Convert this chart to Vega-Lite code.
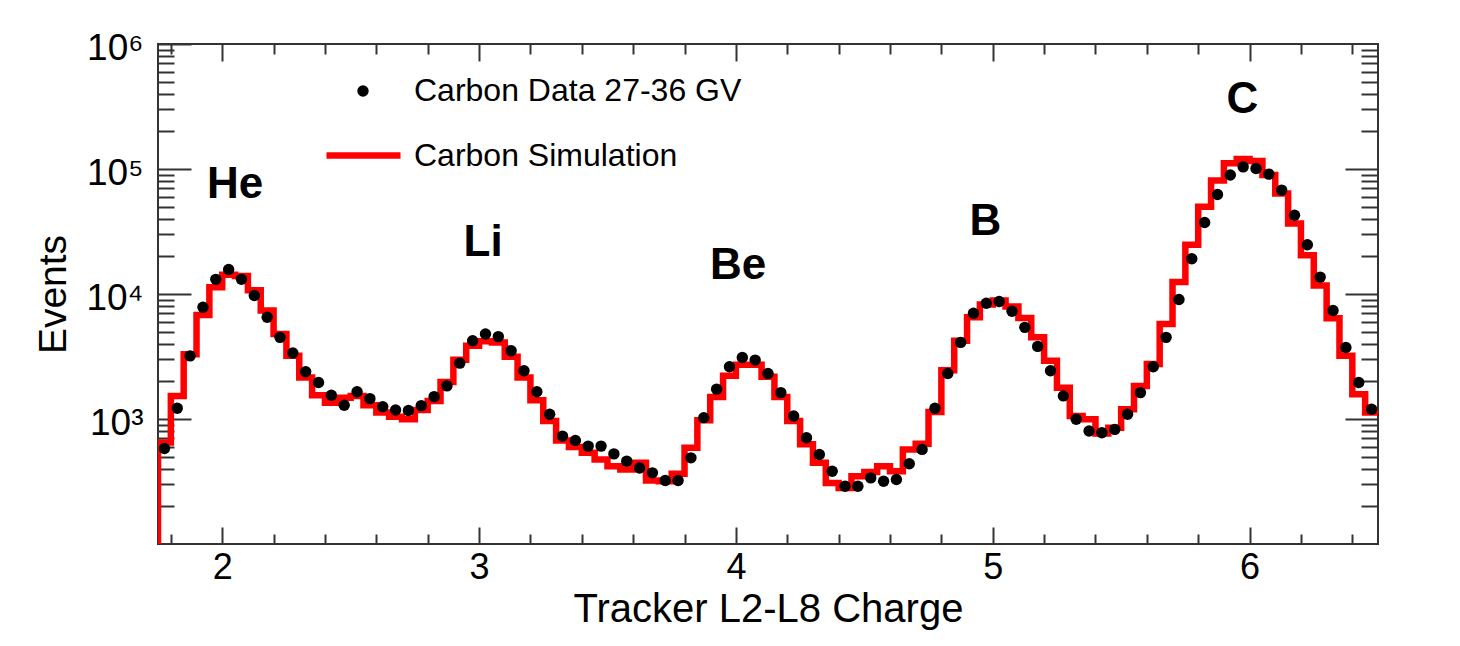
{
  "$schema": "https://vega.github.io/schema/vega-lite/v6.json",
  "width": 1220,
  "height": 500,
  "autosize": {"type": "none"},
  "padding": {"left": 158, "top": 44, "right": 82, "bottom": 102},
  "background": "white",
  "config": {
    "font": "Liberation Sans",
    "view": {"stroke": "#333333", "strokeWidth": 2},
    "axis": {
      "grid": false,
      "domain": false,
      "tickColor": "#333333",
      "tickWidth": 2,
      "labelColor": "black",
      "titleColor": "black",
      "labelFont": "Liberation Sans",
      "titleFont": "Liberation Sans",
      "titleFontWeight": "normal",
      "labelFlush": false,
      "labelOverlap": false,
      "labelBound": false
    },
    "legend": {"padding": 0, "offset": 0, "labelFont": "Liberation Sans", "labelColor": "black", "labelLimit": 0}
  },
  "datasets": {
    "hist": [
      {"edge": 1.75, "sim": 100},
      {"edge": 1.75, "sim": 650},
      {"edge": 1.80, "sim": 1530},
      {"edge": 1.85, "sim": 3300},
      {"edge": 1.90, "sim": 6800},
      {"edge": 1.95, "sim": 11350},
      {"edge": 2.00, "sim": 14270},
      {"edge": 2.05, "sim": 13900},
      {"edge": 2.10, "sim": 10700},
      {"edge": 2.15, "sim": 7370},
      {"edge": 2.20, "sim": 4790},
      {"edge": 2.25, "sim": 3210},
      {"edge": 2.30, "sim": 2150},
      {"edge": 2.35, "sim": 1550},
      {"edge": 2.40, "sim": 1350},
      {"edge": 2.45, "sim": 1480},
      {"edge": 2.50, "sim": 1530},
      {"edge": 2.55, "sim": 1290},
      {"edge": 2.60, "sim": 1125},
      {"edge": 2.65, "sim": 1040},
      {"edge": 2.70, "sim": 995},
      {"edge": 2.75, "sim": 1180},
      {"edge": 2.80, "sim": 1395},
      {"edge": 2.85, "sim": 1980},
      {"edge": 2.90, "sim": 2980},
      {"edge": 2.95, "sim": 3850},
      {"edge": 3.00, "sim": 4180},
      {"edge": 3.05, "sim": 4100},
      {"edge": 3.10, "sim": 3150},
      {"edge": 3.15, "sim": 2150},
      {"edge": 3.20, "sim": 1413},
      {"edge": 3.25, "sim": 963},
      {"edge": 3.30, "sim": 674},
      {"edge": 3.35, "sim": 596},
      {"edge": 3.40, "sim": 537},
      {"edge": 3.45, "sim": 475},
      {"edge": 3.50, "sim": 419},
      {"edge": 3.55, "sim": 394},
      {"edge": 3.60, "sim": 446},
      {"edge": 3.65, "sim": 322},
      {"edge": 3.70, "sim": 318},
      {"edge": 3.75, "sim": 364},
      {"edge": 3.80, "sim": 588},
      {"edge": 3.85, "sim": 977},
      {"edge": 3.90, "sim": 1500},
      {"edge": 3.95, "sim": 2215},
      {"edge": 4.00, "sim": 2714},
      {"edge": 4.05, "sim": 2714},
      {"edge": 4.10, "sim": 2173},
      {"edge": 4.15, "sim": 1500},
      {"edge": 4.20, "sim": 963},
      {"edge": 4.25, "sim": 627},
      {"edge": 4.30, "sim": 446},
      {"edge": 4.35, "sim": 308},
      {"edge": 4.40, "sim": 280},
      {"edge": 4.45, "sim": 348},
      {"edge": 4.50, "sim": 377},
      {"edge": 4.55, "sim": 419},
      {"edge": 4.60, "sim": 382},
      {"edge": 4.65, "sim": 571},
      {"edge": 4.70, "sim": 634},
      {"edge": 4.75, "sim": 1138},
      {"edge": 4.80, "sim": 2460},
      {"edge": 4.85, "sim": 4230},
      {"edge": 4.90, "sim": 6510},
      {"edge": 4.95, "sim": 8240},
      {"edge": 5.00, "sim": 8870},
      {"edge": 5.05, "sim": 7940},
      {"edge": 5.10, "sim": 6440},
      {"edge": 5.15, "sim": 4500},
      {"edge": 5.20, "sim": 2920},
      {"edge": 5.25, "sim": 1780},
      {"edge": 5.30, "sim": 1057},
      {"edge": 5.35, "sim": 995},
      {"edge": 5.40, "sim": 765},
      {"edge": 5.45, "sim": 850},
      {"edge": 5.50, "sim": 1197},
      {"edge": 5.55, "sim": 1840},
      {"edge": 5.60, "sim": 2750},
      {"edge": 5.65, "sim": 5760},
      {"edge": 5.70, "sim": 12450},
      {"edge": 5.75, "sim": 24800},
      {"edge": 5.80, "sim": 49800},
      {"edge": 5.85, "sim": 80900},
      {"edge": 5.90, "sim": 111000},
      {"edge": 5.95, "sim": 120000},
      {"edge": 6.00, "sim": 116000},
      {"edge": 6.05, "sim": 89500},
      {"edge": 6.10, "sim": 63800},
      {"edge": 6.15, "sim": 36600},
      {"edge": 6.20, "sim": 20400},
      {"edge": 6.25, "sim": 11700},
      {"edge": 6.30, "sim": 6390},
      {"edge": 6.35, "sim": 3210},
      {"edge": 6.40, "sim": 1580},
      {"edge": 6.45, "sim": 1125},
      {"edge": 6.50, "sim": 1125}
    ],
    "pts": [
      {"charge": 1.775, "events": 580},
      {"charge": 1.825, "events": 1220},
      {"charge": 1.875, "events": 3200},
      {"charge": 1.925, "events": 7830},
      {"charge": 1.975, "events": 13100},
      {"charge": 2.025, "events": 15700},
      {"charge": 2.075, "events": 13100},
      {"charge": 2.125, "events": 9720},
      {"charge": 2.175, "events": 6510},
      {"charge": 2.225, "events": 4500},
      {"charge": 2.275, "events": 3370},
      {"charge": 2.325, "events": 2390},
      {"charge": 2.375, "events": 1960},
      {"charge": 2.425, "events": 1550},
      {"charge": 2.475, "events": 1290},
      {"charge": 2.525, "events": 1650},
      {"charge": 2.575, "events": 1455},
      {"charge": 2.625, "events": 1255},
      {"charge": 2.675, "events": 1180},
      {"charge": 2.725, "events": 1170},
      {"charge": 2.775, "events": 1280},
      {"charge": 2.825, "events": 1510},
      {"charge": 2.875, "events": 1840},
      {"charge": 2.925, "events": 2800},
      {"charge": 2.975, "events": 4230},
      {"charge": 3.025, "events": 4790},
      {"charge": 3.075, "events": 4560},
      {"charge": 3.125, "events": 3520},
      {"charge": 3.175, "events": 2430},
      {"charge": 3.225, "events": 1650},
      {"charge": 3.275, "events": 1090},
      {"charge": 3.325, "events": 730},
      {"charge": 3.375, "events": 674},
      {"charge": 3.425, "events": 607},
      {"charge": 3.475, "events": 607},
      {"charge": 3.525, "events": 526},
      {"charge": 3.575, "events": 460},
      {"charge": 3.625, "events": 406},
      {"charge": 3.675, "events": 371},
      {"charge": 3.725, "events": 322},
      {"charge": 3.775, "events": 322},
      {"charge": 3.825, "events": 489},
      {"charge": 3.875, "events": 1025},
      {"charge": 3.925, "events": 1733},
      {"charge": 3.975, "events": 2620},
      {"charge": 4.025, "events": 3105},
      {"charge": 4.075, "events": 2960},
      {"charge": 4.125, "events": 2310},
      {"charge": 4.175, "events": 1626},
      {"charge": 4.225, "events": 1057},
      {"charge": 4.275, "events": 708},
      {"charge": 4.325, "events": 520},
      {"charge": 4.375, "events": 382},
      {"charge": 4.425, "events": 290},
      {"charge": 4.475, "events": 290},
      {"charge": 4.525, "events": 338},
      {"charge": 4.575, "events": 318},
      {"charge": 4.625, "events": 328},
      {"charge": 4.675, "events": 438},
      {"charge": 4.725, "events": 571},
      {"charge": 4.775, "events": 1220},
      {"charge": 4.825, "events": 2310},
      {"charge": 4.875, "events": 4100},
      {"charge": 4.925, "events": 7010},
      {"charge": 4.975, "events": 8430},
      {"charge": 5.025, "events": 8700},
      {"charge": 5.075, "events": 7270},
      {"charge": 5.125, "events": 5410},
      {"charge": 5.175, "events": 3810},
      {"charge": 5.225, "events": 2430},
      {"charge": 5.275, "events": 1530},
      {"charge": 5.325, "events": 995},
      {"charge": 5.375, "events": 801},
      {"charge": 5.425, "events": 776},
      {"charge": 5.475, "events": 826},
      {"charge": 5.525, "events": 1090},
      {"charge": 5.575, "events": 1626},
      {"charge": 5.625, "events": 2620},
      {"charge": 5.675, "events": 4500},
      {"charge": 5.725, "events": 9030},
      {"charge": 5.775, "events": 19150},
      {"charge": 5.825, "events": 37300},
      {"charge": 5.875, "events": 62600},
      {"charge": 5.925, "events": 89500},
      {"charge": 5.975, "events": 104000},
      {"charge": 6.025, "events": 101000},
      {"charge": 6.075, "events": 91000},
      {"charge": 6.125, "events": 67800},
      {"charge": 6.175, "events": 42700},
      {"charge": 6.225, "events": 24800},
      {"charge": 6.275, "events": 13650},
      {"charge": 6.325, "events": 7370},
      {"charge": 6.375, "events": 3730},
      {"charge": 6.425, "events": 1960},
      {"charge": 6.475, "events": 1197}
    ]
  },
  "layer": [
    {
      "data": {"name": "hist"},
      "mark": {"type": "line", "interpolate": "step-after", "strokeWidth": 6.5, "clip": true, "strokeJoin": "miter", "strokeCap": "butt"},
      "encoding": {
        "x": {
          "field": "edge", "type": "quantitative",
          "scale": {"domain": [1.75, 6.5], "nice": false, "zero": false},
          "axis": {
            "orient": "bottom", "values": [2, 3, 4, 5, 6], "format": "d",
            "tickSize": -17, "labelPadding": 23, "labelFontSize": 36,
            "title": "Tracker L2-L8 Charge", "titleFontSize": 40, "titlePadding": 4
          }
        },
        "y": {
          "field": "sim", "type": "quantitative",
          "scale": {"type": "log", "domain": [100, 1000000], "nice": false},
          "axis": {
            "orient": "left", "values": [1000, 10000, 100000, 1000000],
            "tickSize": -33, "labelPadding": 48, "labelFontSize": 37, "labelOffset": 4,
            "labelExpr": "datum.value == 1000 ? '10³' : datum.value == 10000 ? '10⁴' : datum.value == 100000 ? '10⁵' : datum.value == 1000000 ? '10⁶' : ''",
            "title": "Events", "titleFontSize": 39, "titlePadding": 12
          }
        },
        "stroke": {
          "datum": "Carbon Simulation", "type": "nominal",
          "scale": {"domain": ["Carbon Simulation"], "range": ["#ff0000"]},
          "legend": {
            "orient": "none", "legendX": 165, "legendY": 71, "title": null,
            "labelFontSize": 32, "labelOffset": 10, "symbolType": "stroke",
            "symbolSize": 5476, "symbolStrokeWidth": 6.5
          }
        }
      }
    },
    {
      "data": {"name": "pts"},
      "mark": {"type": "circle", "size": 130, "opacity": 1},
      "encoding": {
        "x": {
          "field": "charge", "type": "quantitative",
          "scale": {"domain": [1.75, 6.5], "nice": false, "zero": false},
          "axis": {
            "orient": "bottom",
            "values": [1.8, 2.2, 2.4, 2.6, 2.8, 3.2, 3.4, 3.6, 3.8, 4.2, 4.4, 4.6, 4.8, 5.2, 5.4, 5.6, 5.8, 6.2, 6.4],
            "tickSize": -10, "labels": false, "title": null
          }
        },
        "y": {
          "field": "events", "type": "quantitative",
          "scale": {"type": "log", "domain": [100, 1000000], "nice": false},
          "axis": {
            "orient": "left",
            "values": [200, 300, 400, 500, 600, 700, 800, 900, 2000, 3000, 4000, 5000, 6000, 7000, 8000, 9000, 20000, 30000, 40000, 50000, 60000, 70000, 80000, 90000, 200000, 300000, 400000, 500000, 600000, 700000, 800000, 900000],
            "tickSize": -16, "labels": false, "title": null
          }
        },
        "fill": {
          "datum": "Carbon Data 27-36 GV", "type": "nominal",
          "scale": {"domain": ["Carbon Data 27-36 GV"], "range": ["#000000"]},
          "legend": {
            "orient": "none", "legendX": 189, "legendY": 31, "title": null,
            "labelFontSize": 32, "labelOffset": 35, "symbolType": "circle",
            "symbolSize": 130, "symbolStrokeWidth": 0
          }
        }
      }
    },
    {
      "data": {"values": [
        {"charge": 2.05, "events": 74400, "label": "He"},
        {"charge": 3.016, "events": 25400, "label": "Li"},
        {"charge": 4.009, "events": 16900, "label": "Be"}
      ]},
      "mark": {"type": "text", "fontSize": 44, "fontWeight": "bold", "font": "Liberation Sans", "align": "center", "baseline": "middle", "color": "black"},
      "encoding": {
        "x": {
          "field": "charge", "type": "quantitative",
          "scale": {"domain": [1.75, 6.5], "nice": false, "zero": false},
          "axis": {"orient": "top", "values": [2, 3, 4, 5, 6], "tickSize": -17, "labels": false, "title": null}
        },
        "y": {
          "field": "events", "type": "quantitative",
          "scale": {"type": "log", "domain": [100, 1000000], "nice": false},
          "axis": {"orient": "right", "values": [1000, 10000, 100000], "tickSize": -33, "labels": false, "title": null}
        },
        "text": {"field": "label"}
      }
    },
    {
      "data": {"values": [
        {"charge": 4.971, "events": 37500, "label": "B"},
        {"charge": 5.972, "events": 358000, "label": "C"}
      ]},
      "mark": {"type": "text", "fontSize": 44, "fontWeight": "bold", "font": "Liberation Sans", "align": "center", "baseline": "middle", "color": "black"},
      "encoding": {
        "x": {
          "field": "charge", "type": "quantitative",
          "scale": {"domain": [1.75, 6.5], "nice": false, "zero": false},
          "axis": {
            "orient": "top",
            "values": [1.8, 2.2, 2.4, 2.6, 2.8, 3.2, 3.4, 3.6, 3.8, 4.2, 4.4, 4.6, 4.8, 5.2, 5.4, 5.6, 5.8, 6.2, 6.4],
            "tickSize": -10, "labels": false, "title": null
          }
        },
        "y": {
          "field": "events", "type": "quantitative",
          "scale": {"type": "log", "domain": [100, 1000000], "nice": false},
          "axis": {
            "orient": "right",
            "values": [200, 300, 400, 500, 600, 700, 800, 900, 2000, 3000, 4000, 5000, 6000, 7000, 8000, 9000, 20000, 30000, 40000, 50000, 60000, 70000, 80000, 90000, 200000, 300000, 400000, 500000, 600000, 700000, 800000, 900000],
            "tickSize": -17, "labels": false, "title": null
          }
        },
        "text": {"field": "label"}
      }
    }
  ],
  "resolve": {"axis": {"x": "independent", "y": "independent"}}
}
